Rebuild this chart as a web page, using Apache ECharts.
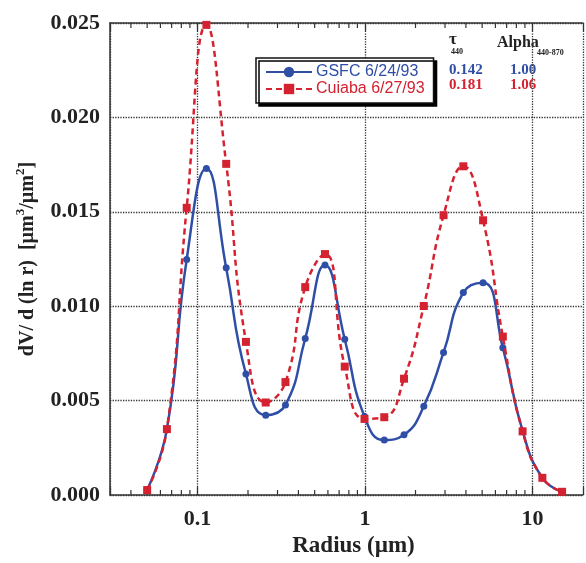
<!DOCTYPE html>
<html>
<head>
<meta charset="utf-8">
<script src="https://cdn.jsdelivr.net/npm/echarts@6/dist/echarts.min.js"></script>
<style>html,body{margin:0;padding:0;background:#fff;}#c{width:586px;height:563px;}</style>
</head>
<body>
<div id="c"></div>
<script>
// AERONET radius bins (µm)
const radius = [0.05, 0.0656, 0.0861, 0.1129, 0.1482, 0.1944, 0.2551, 0.3347, 0.4392, 0.5763, 0.7562,
  0.9922, 1.3019, 1.7083, 2.2415, 2.9413, 3.8593, 5.0639, 6.6445, 8.7185, 11.44, 15.0];
const gsfc = [0.00028, 0.00349, 0.01248, 0.01729, 0.01203, 0.00641, 0.00423, 0.00477, 0.00829, 0.01218, 0.00825,
  0.00416, 0.00291, 0.00319, 0.00470, 0.00755, 0.01072, 0.01124, 0.00780, 0.00339, 0.00091, 0.00017];
const cuiaba = [0.00026, 0.00349, 0.01521, 0.02490, 0.01754, 0.00811, 0.00490, 0.00598, 0.01101, 0.01276, 0.00680,
  0.00403, 0.00412, 0.00616, 0.01001, 0.01482, 0.01741, 0.01455, 0.00839, 0.00337, 0.00091, 0.00017];
const seriesNames = ['GSFC 6/24/93', 'Cuiaba 6/27/93'];
const xTickLabels = ['0.1', '1', '10'];
const minorTicks = [0.04, 0.05, 0.06, 0.07, 0.08, 0.09, 0.2, 0.3, 0.4, 0.5, 0.6, 0.7, 0.8, 0.9,
  2, 3, 4, 5, 6, 7, 8, 9];
const tauValues = ['0.142', '0.181'];
const alphaValues = ['1.00', '1.06'];

const BLUE = '#2f4ea6';
const RED = '#d42230';
const SERIF = '"Liberation Serif","Times New Roman",serif';
const SANS = '"Liberation Sans",Arial,Helvetica,sans-serif';
const AX = '#333';
const xMin = 0.03, xMax = 20, yMin = 0, yMax = 0.025;

const chart = echarts.init(document.getElementById('c'), null, {renderer: 'canvas'});

const pair = arr => radius.map((r, i) => [r, arr[i]]);

const option = {
  animation: false,
  backgroundColor: '#fff',
  grid: {left: 110, top: 23, width: 478, height: 474},
  legend: {
    orient: 'vertical', left: 256, top: 58,
    padding: [6, 9, 6, 9], itemGap: 1, itemWidth: 46, itemHeight: 13,
    backgroundColor: '#fff', borderColor: '#111', borderWidth: 1.5,
    shadowColor: '#000', shadowOffsetX: 3, shadowOffsetY: 3, shadowBlur: 0,
    data: [
      {name: seriesNames[0], textStyle: {color: BLUE}},
      {name: seriesNames[1], textStyle: {color: RED}}
    ],
    textStyle: {fontFamily: SANS, fontSize: 16, padding: [0, 0, 0, -1]}
  },
  xAxis: [{
    type: 'log', logBase: 10, min: xMin, max: xMax, position: 'bottom',
    axisLine: {show: true, lineStyle: {color: AX, width: 1.5}},
    axisTick: {show: true, inside: true, length: 8, lineStyle: {color: AX, width: 1.2}},
    axisLabel: {
      margin: 13, color: '#222', fontFamily: SERIF, fontWeight: 'bold', fontSize: 22,
      formatter: v => { const s = String(+(+v).toPrecision(6)); return xTickLabels.includes(s) ? s : ''; }
    },
    splitLine: {show: true, lineStyle: {type: 'dotted', color: AX, width: 1.3}},
    name: 'Radius (µm)', nameLocation: 'middle', nameGap: 40,
    nameTextStyle: {fontFamily: SERIF, fontWeight: 'bold', fontSize: 23, color: '#222', padding: [0, 0, 0, 14]}
  }, {
    type: 'log', logBase: 10, min: xMin, max: xMax, position: 'top',
    axisLine: {show: true, lineStyle: {color: AX, width: 1.5}},
    axisTick: {show: true, inside: true, length: 8, lineStyle: {color: AX, width: 1.2}},
    axisLabel: {show: false},
    splitLine: {show: false}
  }],
  yAxis: {
    type: 'value', min: yMin, max: yMax, interval: 0.005,
    axisLine: {show: true, lineStyle: {color: AX, width: 1.5}},
    axisTick: {show: false},
    axisLabel: {
      margin: 10, color: '#222', fontFamily: SERIF, fontWeight: 'bold', fontSize: 22,
      formatter: v => v.toFixed(3)
    },
    splitLine: {show: true, lineStyle: {type: 'dotted', color: AX, width: 1.3}},
    name: '{a|dV/ d (ln r)  [µm}{s|3}{a|/µm}{s|2}{a|]}',
    nameLocation: 'middle', nameGap: 72, nameRotate: 90,
    nameTextStyle: {
      color: '#222',
      rich: {
        a: {fontFamily: SERIF, fontWeight: 'bold', fontSize: 20, lineHeight: 24, color: '#222', verticalAlign: 'bottom'},
        s: {fontFamily: SERIF, fontWeight: 'bold', fontSize: 13, lineHeight: 24, color: '#222', verticalAlign: 'top', padding: [0, 0, 8, 0]}
      }
    }
  },
  series: [
    {
      name: 'minor ticks', type: 'custom', silent: true, clip: false, z: 3,
      data: minorTicks.map(v => [v, yMin]),
      encode: {x: 0, y: 1},
      renderItem: (params, api) => {
        const v = api.value(0);
        const b = api.coord([v, yMin]);
        const t = api.coord([v, yMax]);
        const st = {stroke: AX, lineWidth: 1.2};
        return {type: 'group', children: [
          {type: 'line', shape: {x1: b[0], y1: b[1], x2: b[0], y2: b[1] - 5}, style: st},
          {type: 'line', shape: {x1: t[0], y1: t[1], x2: t[0], y2: t[1] + 5}, style: st}
        ]};
      }
    },
    {
      name: seriesNames[0], type: 'line', smooth: 0.5, data: pair(gsfc),
      symbol: 'circle', symbolSize: 7,
      lineStyle: {color: BLUE, width: 2.5}, itemStyle: {color: BLUE}, z: 4
    },
    {
      name: seriesNames[1], type: 'line', smooth: 0.5, data: pair(cuiaba),
      symbol: 'rect', symbolSize: 8,
      lineStyle: {color: RED, width: 2.5, type: [6, 4]}, itemStyle: {color: RED}, z: 5
    }
  ],
  graphic: [
    {type: 'text', x: 449, y: 40, style: {text: 'τ', font: 'bold 17px ' + SERIF, fill: '#222', textVerticalAlign: 'middle'}},
    {type: 'text', x: 451, y: 52, style: {text: '440', font: 'bold 8px ' + SERIF, fill: '#222', textVerticalAlign: 'middle'}},
    {type: 'text', x: 497, y: 43, style: {text: 'Alpha', font: 'bold 16px ' + SERIF, fill: '#222', textVerticalAlign: 'middle'}},
    {type: 'text', x: 537, y: 53, style: {text: '440-870', font: 'bold 8px ' + SERIF, fill: '#222', textVerticalAlign: 'middle'}},
    {type: 'text', x: 449, y: 70, style: {text: tauValues[0], font: 'bold 15px ' + SERIF, fill: BLUE, textVerticalAlign: 'middle'}},
    {type: 'text', x: 510, y: 70, style: {text: alphaValues[0], font: 'bold 15px ' + SERIF, fill: BLUE, textVerticalAlign: 'middle'}},
    {type: 'text', x: 449, y: 85, style: {text: tauValues[1], font: 'bold 15px ' + SERIF, fill: RED, textVerticalAlign: 'middle'}},
    {type: 'text', x: 510, y: 85, style: {text: alphaValues[1], font: 'bold 15px ' + SERIF, fill: RED, textVerticalAlign: 'middle'}}
  ]
};
chart.setOption(option);
</script>
</body>
</html>
